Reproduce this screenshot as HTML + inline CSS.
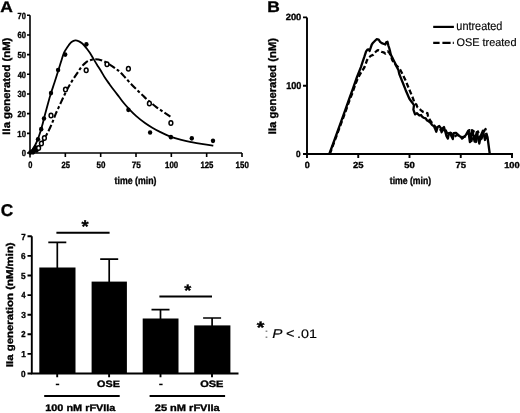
<!DOCTYPE html>
<html><head><meta charset="utf-8"><style>html,body{margin:0;padding:0;background:#fff;width:520px;height:413px;overflow:hidden}svg{display:block;will-change:transform}text{text-rendering:geometricPrecision}</style></head>
<body><svg width="520" height="413" viewBox="0 0 520 413"><rect width="520" height="413" fill="#fff"/>
<path d="M30,15.31 V157.5 M29.2,153 H242" stroke="#000" stroke-width="1.6" fill="none"/>
<path d="M27,133.33 H30 M27,113.66 H30 M27,93.99 H30 M27,74.32 H30 M27,54.65 H30 M27,34.98 H30 M27,15.31 H30 M27,153.00 H30 M65.33,153 V157 M100.67,153 V157 M136.00,153 V157 M171.33,153 V157 M206.66,153 V157 M242.00,153 V157 " stroke="#000" stroke-width="1.6" fill="none"/>
<path d="M30.00,153.20 C30.50,152.50 32.00,150.62 33.00,149.00 C34.00,147.38 35.00,145.67 36.00,143.50 C37.00,141.33 38.00,138.87 39.00,136.00 C40.00,133.13 41.00,129.88 42.00,126.30 C43.00,122.72 44.00,118.32 45.00,114.50 C46.00,110.68 47.00,106.97 48.00,103.40 C49.00,99.83 49.92,96.58 51.00,93.10 C52.08,89.62 53.33,86.10 54.50,82.50 C55.67,78.90 56.92,74.95 58.00,71.50 C59.08,68.05 60.08,64.72 61.00,61.80 C61.92,58.88 62.70,56.03 63.50,54.00 C64.30,51.97 64.93,51.07 65.80,49.60 C66.67,48.13 67.75,46.45 68.70,45.20 C69.65,43.95 70.40,42.90 71.50,42.10 C72.60,41.30 74.05,40.53 75.30,40.40 C76.55,40.27 77.88,40.82 79.00,41.30 C80.12,41.78 81.08,42.55 82.00,43.30 C82.92,44.05 83.65,44.85 84.50,45.80 C85.35,46.75 86.18,47.78 87.10,49.00 C88.02,50.22 88.93,51.45 90.00,53.10 C91.07,54.75 92.33,56.97 93.50,58.90 C94.67,60.83 95.75,62.68 97.00,64.70 C98.25,66.72 99.67,68.82 101.00,71.00 C102.33,73.18 103.58,75.60 105.00,77.80 C106.42,80.00 107.93,82.03 109.50,84.20 C111.07,86.37 112.78,88.67 114.40,90.80 C116.02,92.93 117.60,94.92 119.20,97.00 C120.80,99.08 122.45,101.40 124.00,103.30 C125.55,105.20 126.50,106.32 128.50,108.40 C130.50,110.48 133.25,113.37 136.00,115.80 C138.75,118.23 142.28,121.02 145.00,123.00 C147.72,124.98 149.88,126.27 152.30,127.70 C154.72,129.13 156.48,130.12 159.50,131.60 C162.52,133.08 166.77,135.22 170.40,136.60 C174.03,137.98 177.78,138.98 181.30,139.90 C184.82,140.82 187.87,141.40 191.50,142.10 C195.13,142.80 199.47,143.52 203.10,144.10 C206.73,144.68 211.60,145.35 213.30,145.60" stroke="#000" stroke-width="1.8" fill="none"/>
<path d="M30.00,153.20 C30.67,152.88 32.60,152.13 34.00,151.30 C35.40,150.47 37.20,149.38 38.40,148.20 C39.60,147.02 40.20,145.78 41.20,144.20 C42.20,142.62 43.35,140.57 44.40,138.70 C45.45,136.83 46.48,134.98 47.50,133.00 C48.52,131.02 49.52,129.00 50.50,126.80 C51.48,124.60 52.48,122.07 53.40,119.80 C54.32,117.53 54.98,115.57 56.00,113.20 C57.02,110.83 58.32,108.17 59.50,105.60 C60.68,103.03 61.93,100.28 63.10,97.80 C64.27,95.32 65.35,92.93 66.50,90.70 C67.65,88.47 68.77,86.50 70.00,84.40 C71.23,82.30 72.60,80.12 73.90,78.10 C75.20,76.08 76.52,74.20 77.80,72.30 C79.08,70.40 80.23,68.37 81.60,66.70 C82.97,65.03 84.55,63.38 86.00,62.30 C87.45,61.22 88.93,60.70 90.30,60.20 C91.67,59.70 92.83,59.42 94.20,59.30 C95.57,59.18 97.05,59.25 98.50,59.50 C99.95,59.75 101.52,60.23 102.90,60.80 C104.28,61.37 105.33,62.07 106.80,62.90 C108.27,63.73 110.08,64.73 111.70,65.80 C113.32,66.87 115.12,68.27 116.50,69.30 C117.88,70.33 118.55,70.63 120.00,72.00 C121.45,73.37 123.32,75.47 125.20,77.50 C127.08,79.53 129.28,82.08 131.30,84.20 C133.32,86.32 135.28,88.22 137.30,90.20 C139.32,92.18 141.45,94.27 143.40,96.10 C145.35,97.93 146.80,99.33 149.00,101.20 C151.20,103.07 154.12,105.45 156.60,107.30 C159.08,109.15 161.35,110.60 163.90,112.30 C166.45,114.00 170.57,116.63 171.90,117.50" stroke="#000" stroke-width="2.1" fill="none" stroke-dasharray="7 2.4 3 2.4"/>
<ellipse cx="38" cy="139.3" rx="2.2" ry="2.35" fill="#000"/>
<ellipse cx="41.2" cy="129.2" rx="2.2" ry="2.35" fill="#000"/>
<ellipse cx="44" cy="118.5" rx="2.2" ry="2.35" fill="#000"/>
<ellipse cx="51" cy="93.1" rx="2.2" ry="2.35" fill="#000"/>
<ellipse cx="58.1" cy="70" rx="2.2" ry="2.35" fill="#000"/>
<ellipse cx="65.2" cy="54.6" rx="2.2" ry="2.35" fill="#000"/>
<ellipse cx="86.4" cy="44.3" rx="2.2" ry="2.35" fill="#000"/>
<ellipse cx="128.4" cy="109.8" rx="2.2" ry="2.35" fill="#000"/>
<ellipse cx="150.1" cy="132.5" rx="2.2" ry="2.35" fill="#000"/>
<ellipse cx="170.9" cy="137.2" rx="2.2" ry="2.35" fill="#000"/>
<ellipse cx="191.8" cy="138.3" rx="2.2" ry="2.35" fill="#000"/>
<ellipse cx="213" cy="140.8" rx="2.2" ry="2.35" fill="#000"/>
<ellipse cx="30.3" cy="152.6" rx="2.2" ry="2.35" fill="#000"/>
<ellipse cx="32" cy="151.5" rx="2.2" ry="2.35" fill="#000"/>
<ellipse cx="34" cy="149.6" rx="2.2" ry="2.35" fill="#000"/>
<ellipse cx="35.5" cy="147.6" rx="2.2" ry="2.35" fill="#000"/>
<ellipse cx="33" cy="152.3" rx="2.2" ry="2.35" fill="#000"/>
<ellipse cx="36.5" cy="150.5" rx="2.2" ry="2.35" fill="#000"/>
<ellipse cx="38.6" cy="148.0" rx="1.9" ry="2.25" fill="#fff" stroke="#000" stroke-width="1.5"/>
<ellipse cx="41.4" cy="143.6" rx="1.9" ry="2.25" fill="#fff" stroke="#000" stroke-width="1.5"/>
<ellipse cx="44.4" cy="137.9" rx="1.9" ry="2.25" fill="#fff" stroke="#000" stroke-width="1.5"/>
<ellipse cx="51" cy="115.5" rx="1.9" ry="2.25" fill="#fff" stroke="#000" stroke-width="1.5"/>
<ellipse cx="65.5" cy="89.5" rx="1.9" ry="2.25" fill="#fff" stroke="#000" stroke-width="1.5"/>
<ellipse cx="86.2" cy="70.2" rx="1.9" ry="2.25" fill="#fff" stroke="#000" stroke-width="1.5"/>
<ellipse cx="107.0" cy="64.3" rx="1.9" ry="2.25" fill="#fff" stroke="#000" stroke-width="1.5"/>
<ellipse cx="128.4" cy="68.7" rx="1.9" ry="2.25" fill="#fff" stroke="#000" stroke-width="1.5"/>
<ellipse cx="149.4" cy="103.6" rx="1.9" ry="2.25" fill="#fff" stroke="#000" stroke-width="1.5"/>
<ellipse cx="170.9" cy="122.9" rx="1.9" ry="2.25" fill="#fff" stroke="#000" stroke-width="1.5"/>
<path d="M307,17.40 V154 M306,154 H513" stroke="#000" stroke-width="1.9" fill="none"/>
<path d="M303,154.00 H307 M303,85.70 H307 M303,17.40 H307 M307.00,154 V158 M358.25,154 V158 M409.50,154 V158 M460.75,154 V158 M512.00,154 V158 " stroke="#000" stroke-width="1.9" fill="none"/>
<path d="M329.30,154.00 L333.00,144.00 L337.00,133.00 L341.00,121.80 L345.30,110.00 L349.00,99.50 L353.00,88.50 L357.00,77.00 L360.90,67.10 L362.60,61.90 L364.40,56.70 L366.10,51.40 L367.40,49.70 L368.70,49.30 L369.60,51.00 L370.90,47.10 L371.80,44.50 L373.10,42.70 L374.80,41.00 L376.60,39.20 L378.70,39.70 L380.10,41.80 L381.80,43.20 L384.00,44.00 L385.30,44.50 L386.20,42.30 L387.50,41.80 L388.30,45.30 L389.20,48.00 L390.10,51.40 L390.90,54.90 L392.30,57.50 L393.60,60.20 L394.90,62.80 L396.00,65.40 L398.40,70.00 L399.40,74.40 L402.60,82.30 L405.70,90.20 L409.40,98.80 L412.30,102.70 L414.00,105.20 L413.40,109.70 L414.60,113.20 L415.20,114.40 L416.90,113.20 L419.30,115.50 L421.00,115.00 L422.20,116.70 L423.90,117.90 L425.70,118.40 L426.80,120.20 L428.60,121.30 L430.30,122.50 L432.00,124.80 L434.00,126.30 L435.30,129.40 L436.30,131.80 L437.70,126.90 L439.20,126.00 L440.70,127.90 L441.60,132.30 L442.60,128.40 L444.00,127.00 L445.00,130.80 L446.50,136.10 L447.90,138.60 L448.90,133.20 L450.30,132.80 L451.30,136.10 L452.80,139.10 L453.70,133.20 L455.70,132.80 L457.60,134.20 L459.10,135.70 L461.00,137.10 L462.00,138.60 L463.40,137.10 L465.70,135.30 L468.30,130.60 L469.90,142.10 L472.00,130.10 L474.60,141.60 L476.70,132.20 L479.30,143.60 L480.80,135.80 L482.90,130.60 L485.00,140.00 L486.60,134.30 L487.50,137.00 L489.70,153.50" stroke="#000" stroke-width="2.3" fill="none" stroke-linejoin="round"/>
<path d="M329.80,154.00 L335.00,140.00 L340.00,126.50 L345.00,113.00 L349.60,100.00 L352.00,94.00 L355.50,84.00 L357.50,79.00 L359.80,74.70 L362.00,71.00 L364.30,67.50 L365.20,65.40 L367.00,60.20 L368.70,57.50 L370.90,55.80 L373.10,54.90 L374.80,52.70 L376.60,51.00 L377.90,50.10 L380.10,51.00 L381.80,51.90 L383.50,52.30 L385.30,53.60 L387.90,51.40 L389.50,53.00 L390.60,55.40 L392.40,60.30 L394.80,63.90 L397.50,66.50 L400.20,69.70 L402.60,74.40 L405.70,80.70 L408.90,88.60 L412.90,98.10 L414.60,103.30 L416.30,104.50 L417.50,107.40 L419.30,108.60 L421.00,110.30 L423.30,112.00 L425.70,112.60 L427.40,113.20 L428.00,116.10 L428.60,117.90 L430.90,121.60 L433.00,124.00 L436.00,127.50 L439.00,128.50 L442.00,131.00 L445.00,129.00 L448.00,135.00 L451.00,133.00 L454.00,137.00 L457.00,135.00 L460.00,136.00 L463.00,137.50 L467.30,135.30 L469.40,130.10 L471.50,141.00 L473.50,131.00 L476.00,142.00 L478.00,131.50 L481.00,141.00 L483.00,133.00 L485.50,129.00 L487.00,138.00" stroke="#000" stroke-width="2.3" fill="none" stroke-linejoin="round" stroke-dasharray="5 2.5"/>
<path d="M433.2,26.9 H453.9" stroke="#000" stroke-width="2.2"/>
<path d="M433.2,42.8 H439.6 M442.4,42.8 H450.6 M452.8,42.8 H453.8" stroke="#000" stroke-width="2.2"/>
<path d="M31.8,236.30 V373.5 M30.9,373.5 H238.5" stroke="#000" stroke-width="1.9" fill="none"/>
<path d="M27.5,373.50 H31.8 M27.5,353.90 H31.8 M27.5,334.30 H31.8 M27.5,314.70 H31.8 M27.5,295.10 H31.8 M27.5,275.50 H31.8 M27.5,255.90 H31.8 M27.5,236.30 H31.8 M57.2,373.5 V377.2 M109.1,373.5 V377.2 M160.5,373.5 V377.2 M212.0,373.5 V377.2 " stroke="#000" stroke-width="1.9" fill="none"/>
<rect x="39.3" y="267.5" width="36.20" height="106.00" fill="#000"/>
<path d="M57.3,268.5 V242.3 M48.3,242.3 H66.3" stroke="#000" stroke-width="1.7" fill="none"/>
<rect x="91.6" y="281.6" width="35.30" height="91.90" fill="#000"/>
<path d="M109.2,282.6 V259.1 M100.2,259.1 H118.2" stroke="#000" stroke-width="1.7" fill="none"/>
<rect x="142.7" y="318.5" width="35.80" height="55.00" fill="#000"/>
<path d="M160.5,319.5 V309.7 M151.5,309.7 H169.5" stroke="#000" stroke-width="1.7" fill="none"/>
<rect x="194.2" y="325.4" width="36.20" height="48.10" fill="#000"/>
<path d="M212.1,326.4 V318.0 M203.1,318.0 H221.1" stroke="#000" stroke-width="1.7" fill="none"/>
<path d="M56.4,232.8 H109.6 M159.4,296.5 H212" stroke="#000" stroke-width="2" fill="none"/>
<rect x="55.8" y="383.7" width="3.4" height="1.5" fill="#000"/><rect x="159.2" y="383.7" width="3.4" height="1.5" fill="#000"/>
<path d="M44.2,396.1 H119.7 M149.6,396.1 H225.1" stroke="#000" stroke-width="2" fill="none"/>
<text id="lA" x="0.357" y="12.000" font-family='"Liberation Sans", sans-serif' font-size="15.430" font-weight="bold" font-style="normal" textLength="12.601" lengthAdjust="spacingAndGlyphs" fill="#000" stroke="#000" stroke-width="0.35">A</text>
<text id="lB" x="267.288" y="12.000" font-family='"Liberation Sans", sans-serif' font-size="15.333" font-weight="bold" font-style="normal" textLength="12.570" lengthAdjust="spacingAndGlyphs" fill="#000" stroke="#000" stroke-width="0.35">B</text>
<text id="lC" x="0.687" y="216.000" font-family='"Liberation Sans", sans-serif' font-size="17.064" font-weight="bold" font-style="normal" textLength="12.426" lengthAdjust="spacingAndGlyphs" fill="#000" stroke="#000" stroke-width="0.35">C</text>
<text id="ay0" x="21.650" y="156.000" font-family='"Liberation Sans", sans-serif' font-size="8.855" font-weight="bold" font-style="normal" textLength="4.242" lengthAdjust="spacingAndGlyphs" fill="#000" stroke="#000" stroke-width="0.35">0</text>
<text id="ay10" x="17.340" y="137.000" font-family='"Liberation Sans", sans-serif' font-size="8.846" font-weight="bold" font-style="normal" textLength="8.632" lengthAdjust="spacingAndGlyphs" fill="#000" stroke="#000" stroke-width="0.35">10</text>
<text id="ay20" x="17.543" y="117.000" font-family='"Liberation Sans", sans-serif' font-size="8.642" font-weight="bold" font-style="normal" textLength="8.389" lengthAdjust="spacingAndGlyphs" fill="#000" stroke="#000" stroke-width="0.35">20</text>
<text id="ay30" x="17.424" y="97.000" font-family='"Liberation Sans", sans-serif' font-size="8.883" font-weight="bold" font-style="normal" textLength="8.535" lengthAdjust="spacingAndGlyphs" fill="#000" stroke="#000" stroke-width="0.35">30</text>
<text id="ay40" x="17.718" y="78.000" font-family='"Liberation Sans", sans-serif' font-size="8.884" font-weight="bold" font-style="normal" textLength="8.326" lengthAdjust="spacingAndGlyphs" fill="#000" stroke="#000" stroke-width="0.35">40</text>
<text id="ay50" x="17.396" y="58.000" font-family='"Liberation Sans", sans-serif' font-size="8.702" font-weight="bold" font-style="normal" textLength="8.621" lengthAdjust="spacingAndGlyphs" fill="#000" stroke="#000" stroke-width="0.35">50</text>
<text id="ay60" x="17.508" y="38.000" font-family='"Liberation Sans", sans-serif' font-size="8.948" font-weight="bold" font-style="normal" textLength="8.464" lengthAdjust="spacingAndGlyphs" fill="#000" stroke="#000" stroke-width="0.35">60</text>
<text id="ay70" x="17.585" y="19.000" font-family='"Liberation Sans", sans-serif' font-size="8.893" font-weight="bold" font-style="normal" textLength="8.335" lengthAdjust="spacingAndGlyphs" fill="#000" stroke="#000" stroke-width="0.35">70</text>
<text id="ax0" x="28.285" y="168.000" font-family='"Liberation Sans", sans-serif' font-size="9.389" font-weight="bold" font-style="normal" textLength="4.158" lengthAdjust="spacingAndGlyphs" fill="#000" stroke="#000" stroke-width="0.35">0</text>
<text id="ax25" x="61.464" y="168.000" font-family='"Liberation Sans", sans-serif' font-size="9.049" font-weight="bold" font-style="normal" textLength="8.473" lengthAdjust="spacingAndGlyphs" fill="#000" stroke="#000" stroke-width="0.35">25</text>
<text id="ax50" x="96.441" y="168.000" font-family='"Liberation Sans", sans-serif' font-size="9.254" font-weight="bold" font-style="normal" textLength="8.883" lengthAdjust="spacingAndGlyphs" fill="#000" stroke="#000" stroke-width="0.35">50</text>
<text id="ax75" x="131.671" y="168.000" font-family='"Liberation Sans", sans-serif' font-size="9.245" font-weight="bold" font-style="normal" textLength="9.035" lengthAdjust="spacingAndGlyphs" fill="#000" stroke="#000" stroke-width="0.35">75</text>
<text id="ax100" x="165.047" y="168.000" font-family='"Liberation Sans", sans-serif' font-size="9.186" font-weight="bold" font-style="normal" textLength="13.100" lengthAdjust="spacingAndGlyphs" fill="#000" stroke="#000" stroke-width="0.35">100</text>
<text id="ax125" x="200.416" y="168.000" font-family='"Liberation Sans", sans-serif' font-size="9.095" font-weight="bold" font-style="normal" textLength="12.981" lengthAdjust="spacingAndGlyphs" fill="#000" stroke="#000" stroke-width="0.35">125</text>
<text id="ax150" x="235.611" y="168.000" font-family='"Liberation Sans", sans-serif' font-size="9.116" font-weight="bold" font-style="normal" textLength="13.171" lengthAdjust="spacingAndGlyphs" fill="#000" stroke="#000" stroke-width="0.35">150</text>
<text id="atime" x="114.598" y="184.000" font-family='"Liberation Sans", sans-serif' font-size="10.187" font-weight="bold" font-style="normal" textLength="41.836" lengthAdjust="spacingAndGlyphs" fill="#000" stroke="#000" stroke-width="0.35">time (min)</text>
<text id="aylab" transform="translate(9.730,134.655) rotate(-90)" x="0" y="0" font-family='"Liberation Sans", sans-serif' font-size="10.677" font-weight="bold" font-style="normal" textLength="97.050" lengthAdjust="spacingAndGlyphs" fill="#000" stroke="#000" stroke-width="0.35">IIa generated (nM)</text>
<text id="by0" x="296.093" y="157.000" font-family='"Liberation Sans", sans-serif' font-size="9.046" font-weight="bold" font-style="normal" textLength="4.561" lengthAdjust="spacingAndGlyphs" fill="#000" stroke="#000" stroke-width="0.35">0</text>
<text id="by100" x="286.238" y="89.000" font-family='"Liberation Sans", sans-serif' font-size="10.003" font-weight="bold" font-style="normal" textLength="15.203" lengthAdjust="spacingAndGlyphs" fill="#000" stroke="#000" stroke-width="0.35">100</text>
<text id="by200" x="285.734" y="20.000" font-family='"Liberation Sans", sans-serif' font-size="8.999" font-weight="bold" font-style="normal" textLength="15.567" lengthAdjust="spacingAndGlyphs" fill="#000" stroke="#000" stroke-width="0.35">200</text>
<text id="bx0" x="304.651" y="168.000" font-family='"Liberation Sans", sans-serif' font-size="8.968" font-weight="bold" font-style="normal" textLength="4.989" lengthAdjust="spacingAndGlyphs" fill="#000" stroke="#000" stroke-width="0.35">0</text>
<text id="bx25" x="353.048" y="168.000" font-family='"Liberation Sans", sans-serif' font-size="8.840" font-weight="bold" font-style="normal" textLength="10.505" lengthAdjust="spacingAndGlyphs" fill="#000" stroke="#000" stroke-width="0.35">25</text>
<text id="bx50" x="404.173" y="168.000" font-family='"Liberation Sans", sans-serif' font-size="8.879" font-weight="bold" font-style="normal" textLength="10.522" lengthAdjust="spacingAndGlyphs" fill="#000" stroke="#000" stroke-width="0.35">50</text>
<text id="bx75" x="455.403" y="168.000" font-family='"Liberation Sans", sans-serif' font-size="8.924" font-weight="bold" font-style="normal" textLength="10.593" lengthAdjust="spacingAndGlyphs" fill="#000" stroke="#000" stroke-width="0.35">75</text>
<text id="bx100" x="504.225" y="168.000" font-family='"Liberation Sans", sans-serif' font-size="8.635" font-weight="bold" font-style="normal" textLength="15.455" lengthAdjust="spacingAndGlyphs" fill="#000" stroke="#000" stroke-width="0.35">100</text>
<text id="btime" x="389.756" y="184.000" font-family='"Liberation Sans", sans-serif' font-size="10.161" font-weight="bold" font-style="normal" textLength="41.313" lengthAdjust="spacingAndGlyphs" fill="#000" stroke="#000" stroke-width="0.35">time (min)</text>
<text id="bylab" transform="translate(276.303,134.243) rotate(-90)" x="0" y="0" font-family='"Liberation Sans", sans-serif' font-size="10.959" font-weight="bold" font-style="normal" textLength="96.344" lengthAdjust="spacingAndGlyphs" fill="#000" stroke="#000" stroke-width="0.35">IIa generated (nM)</text>
<text id="leg1" x="456.345" y="30.000" font-family='"Liberation Sans", sans-serif' font-size="12.122" font-weight="normal" font-style="normal" textLength="45.974" lengthAdjust="spacingAndGlyphs" fill="#000" stroke="#000" stroke-width="0.15">untreated</text>
<text id="leg2" x="456.499" y="46.000" font-family='"Liberation Sans", sans-serif' font-size="11.129" font-weight="normal" font-style="normal" textLength="59.986" lengthAdjust="spacingAndGlyphs" fill="#000" stroke="#000" stroke-width="0.15">OSE treated</text>
<text id="cy0" x="21.100" y="377.000" font-family='"Liberation Sans", sans-serif' font-size="8.870" font-weight="bold" font-style="normal" textLength="4.550" lengthAdjust="spacingAndGlyphs" fill="#000" stroke="#000" stroke-width="0.35">0</text>
<text id="cy1" x="21.156" y="357.000" font-family='"Liberation Sans", sans-serif' font-size="8.654" font-weight="bold" font-style="normal" textLength="4.571" lengthAdjust="spacingAndGlyphs" fill="#000" stroke="#000" stroke-width="0.35">1</text>
<text id="cy2" x="21.303" y="337.000" font-family='"Liberation Sans", sans-serif' font-size="8.532" font-weight="bold" font-style="normal" textLength="4.312" lengthAdjust="spacingAndGlyphs" fill="#000" stroke="#000" stroke-width="0.35">2</text>
<text id="cy3" x="21.163" y="318.000" font-family='"Liberation Sans", sans-serif' font-size="8.741" font-weight="bold" font-style="normal" textLength="4.646" lengthAdjust="spacingAndGlyphs" fill="#000" stroke="#000" stroke-width="0.35">3</text>
<text id="cy4" x="21.401" y="298.000" font-family='"Liberation Sans", sans-serif' font-size="8.806" font-weight="bold" font-style="normal" textLength="4.007" lengthAdjust="spacingAndGlyphs" fill="#000" stroke="#000" stroke-width="0.35">4</text>
<text id="cy5" x="21.107" y="279.000" font-family='"Liberation Sans", sans-serif' font-size="8.775" font-weight="bold" font-style="normal" textLength="4.634" lengthAdjust="spacingAndGlyphs" fill="#000" stroke="#000" stroke-width="0.35">5</text>
<text id="cy6" x="21.086" y="259.000" font-family='"Liberation Sans", sans-serif' font-size="8.711" font-weight="bold" font-style="normal" textLength="4.560" lengthAdjust="spacingAndGlyphs" fill="#000" stroke="#000" stroke-width="0.35">6</text>
<text id="cy7" x="21.170" y="240.000" font-family='"Liberation Sans", sans-serif' font-size="8.811" font-weight="bold" font-style="normal" textLength="4.424" lengthAdjust="spacingAndGlyphs" fill="#000" stroke="#000" stroke-width="0.35">7</text>
<text id="cose1" x="97.079" y="387.000" font-family='"Liberation Sans", sans-serif' font-size="9.281" font-weight="bold" font-style="normal" textLength="22.780" lengthAdjust="spacingAndGlyphs" fill="#000" stroke="#000" stroke-width="0.35">OSE</text>
<text id="cose2" x="200.145" y="387.000" font-family='"Liberation Sans", sans-serif' font-size="9.283" font-weight="bold" font-style="normal" textLength="23.242" lengthAdjust="spacingAndGlyphs" fill="#000" stroke="#000" stroke-width="0.35">OSE</text>
<text id="cg1" x="45.262" y="411.000" font-family='"Liberation Sans", sans-serif' font-size="9.585" font-weight="bold" font-style="normal" textLength="70.138" lengthAdjust="spacingAndGlyphs" fill="#000" stroke="#000" stroke-width="0.35">100 nM rFVIIa</text>
<text id="cg2" x="154.811" y="411.000" font-family='"Liberation Sans", sans-serif' font-size="9.570" font-weight="bold" font-style="normal" textLength="64.952" lengthAdjust="spacingAndGlyphs" fill="#000" stroke="#000" stroke-width="0.35">25 nM rFVIIa</text>
<text id="cylab" transform="translate(13.174,367.093) rotate(-90)" x="0" y="0" font-family='"Liberation Sans", sans-serif' font-size="9.844" font-weight="bold" font-style="normal" textLength="124.763" lengthAdjust="spacingAndGlyphs" fill="#000" stroke="#000" stroke-width="0.35">IIa generation (nM/min)</text>
<text id="cst1" x="81.466" y="232.000" font-family='"Liberation Sans", sans-serif' font-size="16.952" font-weight="bold" font-style="normal" textLength="7.107" lengthAdjust="spacingAndGlyphs" fill="#000" stroke="#000" stroke-width="0.35">*</text>
<text id="cst2" x="184.214" y="296.000" font-family='"Liberation Sans", sans-serif' font-size="16.638" font-weight="bold" font-style="normal" textLength="6.982" lengthAdjust="spacingAndGlyphs" fill="#000" stroke="#000" stroke-width="0.35">*</text>
<text id="pst" x="256.836" y="333.000" font-family='"Liberation Sans", sans-serif' font-size="16.648" font-weight="bold" font-style="normal" textLength="7.636" lengthAdjust="spacingAndGlyphs" fill="#000" stroke="#000" stroke-width="0.35">*</text>
<text id="pcol" x="264.040" y="338.000" font-family='"Liberation Sans", sans-serif' font-size="14.204" font-weight="normal" font-style="normal" textLength="4.967" lengthAdjust="spacingAndGlyphs" fill="#8a8a8a" stroke="#8a8a8a" stroke-width="0">:</text>
<text id="pP" x="272.168" y="338.000" font-family='"Liberation Sans", sans-serif' font-size="12.847" font-weight="normal" font-style="italic" textLength="10.193" lengthAdjust="spacingAndGlyphs" fill="#000" stroke="#000" stroke-width="0.15">P</text>
<text id="plt" x="285.986" y="338.000" font-family='"Liberation Sans", sans-serif' font-size="13.913" font-weight="normal" font-style="normal" textLength="8.484" lengthAdjust="spacingAndGlyphs" fill="#000" stroke="#000" stroke-width="0.15">&lt;</text>
<text id="p01" x="297.130" y="338.000" font-family='"Liberation Sans", sans-serif' font-size="12.366" font-weight="normal" font-style="normal" textLength="19.927" lengthAdjust="spacingAndGlyphs" fill="#000" stroke="#000" stroke-width="0.15">.01</text>
</svg></body></html>
